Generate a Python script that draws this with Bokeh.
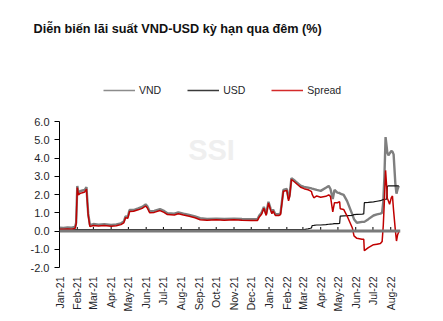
import math
import pandas as pd
from bokeh.plotting import figure
from bokeh.layouts import column
from bokeh.models import (Range1d, FixedTicker, DatetimeTickFormatter, Label, Legend,
                          LegendItem, Span, NumeralTickFormatter, ColumnDataSource)
from bokeh.core.properties import value
from bokeh.embed import file_html
from bokeh.resources import INLINE

TITLE = "Diễn biến lãi suất VND-USD kỳ hạn qua đêm (%)"
SERIES_NAMES = ["VND", "USD", "Spread"]
SERIES_COLORS = ["#7f7f7f", "#111111", "#c00000"]
SERIES_WIDTHS = [2.4, 1.2, 1.5]
LEGEND_COLORS = ["#8c8c8c", "#3a3a3a", "#d42a2a"]

dates = [
    "2021-01-01", "2021-01-08", "2021-01-15", "2021-01-22", "2021-01-28", "2021-01-30",
    "2021-02-01", "2021-02-03", "2021-02-06", "2021-02-10", "2021-02-14", "2021-02-17",
    "2021-02-18", "2021-02-20", "2021-02-23", "2021-03-01", "2021-03-10", "2021-03-20",
    "2021-04-01", "2021-04-10", "2021-04-18", "2021-04-23", "2021-04-26", "2021-04-30",
    "2021-05-03", "2021-05-10", "2021-05-18", "2021-05-25", "2021-05-31", "2021-06-03",
    "2021-06-07", "2021-06-15", "2021-06-25", "2021-07-02", "2021-07-08", "2021-07-20",
    "2021-07-27", "2021-08-05", "2021-08-15", "2021-08-25", "2021-09-03", "2021-09-15",
    "2021-10-01", "2021-10-15", "2021-11-01", "2021-11-15", "2021-12-01", "2021-12-12",
    "2021-12-15", "2021-12-19", "2021-12-23", "2021-12-27", "2021-12-31", "2022-01-04",
    "2022-01-06", "2022-01-08", "2022-01-12", "2022-01-18", "2022-01-21", "2022-01-26",
    "2022-02-01", "2022-02-04", "2022-02-06", "2022-02-09", "2022-02-15", "2022-02-25",
    "2022-03-03", "2022-03-10", "2022-03-14", "2022-03-16", "2022-03-17", "2022-03-20",
    "2022-03-25", "2022-04-01", "2022-04-10", "2022-04-15", "2022-04-18", "2022-04-22",
    "2022-04-25", "2022-04-30", "2022-05-04", "2022-05-05", "2022-05-11", "2022-05-17",
    "2022-05-26", "2022-05-29", "2022-06-03", "2022-06-12", "2022-06-15", "2022-06-16",
    "2022-06-23", "2022-07-02", "2022-07-08", "2022-07-14", "2022-07-17", "2022-07-19",
    "2022-07-21", "2022-07-23", "2022-07-25", "2022-07-26", "2022-07-28", "2022-07-30",
    "2022-08-02", "2022-08-04", "2022-08-06", "2022-08-09", "2022-08-11", "2022-08-13",
    "2022-08-15",
]

vnd = [
    0.18, 0.17, 0.19, 0.18, 0.22, 0.45,
    2.47, 2.08, 2.18, 2.22, 2.25, 2.40,
    1.90, 0.95, 0.32, 0.38, 0.35, 0.37,
    0.33, 0.36, 0.42, 0.52, 0.80, 0.78,
    1.15, 1.15, 1.24, 1.32, 1.46, 1.35,
    1.08, 1.10, 1.20, 1.10, 0.97, 0.95,
    1.02, 0.95, 0.88, 0.80, 0.70, 0.66,
    0.68, 0.66, 0.68, 0.66, 0.64, 0.66,
    0.85, 1.00, 1.32, 0.92, 1.60, 1.20,
    1.02, 1.18, 0.92, 0.92, 0.98, 2.25,
    2.30, 1.75, 2.00, 2.90, 2.75, 2.48,
    2.42, 2.38, 2.35, 2.33, 2.32, 2.30,
    2.25, 2.20, 2.37, 2.47, 2.30, 1.75,
    2.25, 2.10, 2.08, 2.05, 1.98, 1.64,
    0.91, 0.65, 0.45, 0.50, 0.50, 0.50,
    0.65, 0.85, 0.91, 0.95, 1.00, 1.60,
    3.00, 5.15, 4.60, 4.30, 4.15, 4.25,
    4.38, 4.35, 4.20, 2.60, 2.05, 2.30,
    2.47,
]

usd = [
    0.07, 0.07, 0.07, 0.07, 0.07, 0.07,
    0.07, 0.07, 0.07, 0.07, 0.07, 0.07,
    0.07, 0.07, 0.07, 0.07, 0.07, 0.07,
    0.07, 0.07, 0.07, 0.07, 0.07, 0.07,
    0.07, 0.07, 0.07, 0.07, 0.07, 0.07,
    0.07, 0.07, 0.07, 0.07, 0.07, 0.07,
    0.07, 0.07, 0.07, 0.07, 0.07, 0.07,
    0.07, 0.07, 0.07, 0.07, 0.07, 0.07,
    0.07, 0.07, 0.07, 0.07, 0.07, 0.07,
    0.07, 0.07, 0.07, 0.07, 0.07, 0.07,
    0.07, 0.07, 0.07, 0.07, 0.07, 0.07,
    0.08, 0.12, 0.15, 0.17, 0.30, 0.31,
    0.33, 0.33, 0.35, 0.37, 0.38, 0.39,
    0.40, 0.40, 0.42, 0.82, 0.83, 0.84,
    0.86, 0.90, 0.91, 0.92, 0.93, 1.55,
    1.57, 1.60, 1.63, 1.66, 1.70, 1.72,
    1.74, 1.74, 1.74, 2.45, 2.47, 2.47,
    2.47, 2.47, 2.47, 2.47, 2.47, 2.47,
    2.47,
]

spread = [
    0.10, 0.09, 0.11, 0.10, 0.14, 0.38,
    2.38, 1.98, 2.06, 2.10, 2.14, 2.30,
    1.80, 0.86, 0.24, 0.30, 0.27, 0.30,
    0.26, 0.29, 0.35, 0.45, 0.72, 0.70,
    1.07, 1.08, 1.16, 1.24, 1.37, 1.26,
    1.00, 1.02, 1.12, 1.02, 0.90, 0.88,
    0.95, 0.88, 0.81, 0.73, 0.62, 0.59,
    0.61, 0.59, 0.61, 0.59, 0.57, 0.58,
    0.77, 0.92, 1.25, 0.85, 1.53, 1.12,
    0.95, 1.10, 0.85, 0.85, 0.90, 2.18,
    2.22, 1.65, 1.90, 2.82, 2.67, 2.40,
    2.32, 2.26, 2.20, 2.16, 2.02, 1.82,
    1.92, 1.85, 1.90, 1.98, 1.90, 1.05,
    1.55, 1.55, 1.60, 1.22, 1.18, 0.82,
    0.18, -0.27, -0.40, -0.45, -0.45, -1.08,
    -0.91, -0.75, -0.72, -0.69, -0.58, 0.30,
    1.70, 3.32, 2.40, 1.80, 1.64, 1.46,
    1.83, 1.92, 1.10, 0.05, -0.55, -0.20,
    -0.04,
]

month_ticks = [
    "2021-01-01", "2021-02-01", "2021-03-01", "2021-04-01", "2021-05-01", "2021-06-01",
    "2021-07-01", "2021-08-01", "2021-09-01", "2021-10-01", "2021-11-01", "2021-12-01",
    "2022-01-01", "2022-02-01", "2022-03-01", "2022-04-01", "2022-05-01", "2022-06-01",
    "2022-07-01", "2022-08-01",
]
y_ticks = [-2, -1, 0, 1, 2, 3, 4, 5, 6]

FONT = "Liberation Sans"
TXT = "#1f1f2a"

# ---------------- header (title + legend) ----------------
head = figure(width=443, height=110, output_backend="svg", toolbar_location=None,
              x_axis_type=None, y_axis_type=None, title=None,
              x_range=Range1d(0, 443), y_range=Range1d(110, 0),
              min_border=0, min_border_left=0, min_border_right=0,
              min_border_top=0, min_border_bottom=0)
head.frame_align = False
head.outline_line_color = None
head.xgrid.visible = False
head.ygrid.visible = False
head.background_fill_color = "white"
head.border_fill_color = "white"

head.text(x=[33], y=[28], text=[TITLE], text_font=value(FONT), text_font_style="bold",
          text_font_size="12.7px", text_color="#111111", text_align="left",
          text_baseline="middle")

# legend keys: line renderers whose data lie outside the header's visible range
dummies = [head.line(x=[-60, -50], y=[-60, -60], line_color=c, line_width=1.6)
           for c in LEGEND_COLORS]
legend = Legend(items=[LegendItem(label=n, renderers=[r]) for n, r in zip(SERIES_NAMES, dummies)],
                orientation="horizontal", location=(103, 14),
                padding=0, margin=0, spacing=26, glyph_width=32, glyph_height=12,
                label_height=12, label_standoff=4, label_text_font=FONT,
                label_text_font_size="10.5px", label_text_color=TXT,
                border_line_color=None, background_fill_alpha=0)
head.add_layout(legend)

# ---------------- main chart ----------------
src = ColumnDataSource(dict(x=pd.to_datetime(dates), vnd=vnd, usd=usd, spread=spread))
tick_dt = pd.to_datetime(month_ticks)
tick_ms = [int(t.value // 10**6) for t in tick_dt]

p = figure(width=443, height=211, output_backend="svg", toolbar_location=None,
           x_axis_type="datetime", title=None,
           x_range=Range1d(pd.Timestamp("2021-01-01"), pd.Timestamp("2022-08-18")),
           y_range=Range1d(-2, 6),
           min_border_left=59, min_border_right=43, min_border_top=11, min_border_bottom=54)
p.frame_align = False
p.outline_line_color = None
p.xgrid.visible = False
p.ygrid.visible = False
p.background_fill_color = "white"
p.border_fill_color = "white"

p.yaxis.ticker = FixedTicker(ticks=y_ticks)
p.yaxis.formatter = NumeralTickFormatter(format="0.0")
p.yaxis.axis_line_color = "black"
p.yaxis.major_tick_line_color = "black"
p.yaxis.major_tick_out = 5
p.yaxis.major_tick_in = 0
p.yaxis.minor_tick_line_color = None
p.yaxis.major_label_standoff = 5
p.yaxis.major_label_text_font = FONT
p.yaxis.major_label_text_font_size = "11px"
p.yaxis.major_label_text_color = TXT

p.xaxis.ticker = FixedTicker(ticks=tick_ms)
fmt = "%b-%y"
p.xaxis.formatter = DatetimeTickFormatter(days=fmt, months=fmt, years=fmt, hours=fmt,
                                          minutes=fmt, seconds=fmt, milliseconds=fmt,
                                          microseconds=fmt, minsec=fmt, hourmin=fmt)
p.xaxis.axis_line_color = None
p.xaxis.major_tick_line_color = None
p.xaxis.minor_tick_line_color = None
p.xaxis.major_tick_out = 0
p.xaxis.major_label_orientation = math.pi / 2
p.xaxis.major_label_standoff = 9
p.xaxis.major_label_text_font = FONT
p.xaxis.major_label_text_font_size = "10.5px"
p.xaxis.major_label_text_color = TXT

p.add_layout(Label(x=152, y=118, x_units="screen", y_units="screen", text="SSI",
                   text_font=FONT, text_font_style="bold", text_font_size="29px",
                   text_color="#efefef", text_align="center", text_baseline="middle"))

p.add_layout(Span(location=0, dimension="width", line_color="#7a7a7a", line_width=2.8))
p.segment(x0=tick_dt, x1=tick_dt, y0=[0] * len(tick_dt), y1=[0.22] * len(tick_dt),
          line_color="black", line_width=1)

for col, c, w in zip(["vnd", "usd", "spread"], SERIES_COLORS, SERIES_WIDTHS):
    p.line("x", col, source=src, line_color=c, line_width=w)

layout = column(head, p, spacing=0)
open("out.html", "w").write(file_html(layout, INLINE))
